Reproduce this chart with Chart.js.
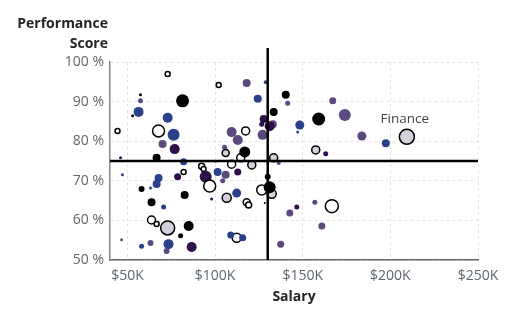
<!DOCTYPE html>
<html><head><meta charset="utf-8">
<script src="https://cdn.jsdelivr.net/npm/chart.js@4"></script>
<style>html,body{margin:0;padding:0;background:#fff}canvas{display:block}</style>
</head><body>
<canvas id="c" width="518" height="322"></canvas>
<script>
// Salary in $K
const salaries = [72.9,102.0,57.4,57.4,81.4,56.3,52.9,72.9,44.3,67.7,76.3,70.0,76.9,66.6,46.0,
  109.4,105.4,106.0,112.9,118.0,128.9,124.3,140.3,141.4,133.4,127.7,132.9,131.1,126.6,127.1,
  117.4,114.6,116.9,148.3,147.1,159.1,167.1,174.0,183.7,157.4,163.1,133.4,120.9,197.4,209.4,
  82.0,47.1,67.7,66.6,63.1,58.0,78.6,82.0,92.3,93.4,94.6,96.9,101.4,106.0,112.9,104.3,109.4,
  82.6,106.6,98.0,63.7,70.6,112.3,63.7,66.6,72.9,84.9,80.3,46.6,58.0,63.1,72.3,73.4,86.6,
  112.3,108.9,115.7,126.6,132.3,130.0,131.1,118.0,119.1,128.3,142.6,146.6,156.9,166.6,160.9,
  137.4,136.3,100.3];
// Performance score in %
const scores = [97.0,94.2,91.7,90.2,90.2,87.4,86.4,85.9,82.6,82.6,81.6,79.3,78.0,75.8,75.8,
  82.3,78.5,77.0,80.3,94.7,94.9,90.7,91.7,89.6,87.4,85.6,84.3,83.8,84.3,81.6,
  82.6,75.8,77.3,84.1,82.3,85.6,90.2,86.6,81.3,77.8,76.8,75.8,74.0,79.5,81.1,
  74.8,71.5,70.7,69.2,68.2,67.9,71.0,72.2,73.7,73.0,71.0,68.7,72.2,71.5,72.2,70.0,74.2,
  66.4,65.7,65.4,64.6,63.4,66.9,60.1,59.1,58.1,58.6,56.1,55.1,53.5,54.3,52.3,54.0,53.3,
  55.6,56.3,55.6,67.7,66.7,71.0,68.4,64.6,63.9,64.4,61.9,63.4,64.6,63.6,58.6,
  54.0,74.5,74.8];
// Bubble size
const sizes = [2.5,2.5,1.5,2.5,6.5,5,1.5,5,2.5,6,6,4,5,4,1.5,
  5,2.5,3.5,5,4,2,4,4,2.5,4,4,4,5,2.5,5,
  4,4,5.5,4.5,1.5,6.5,3.5,6,4.5,4,2.5,4,4,4,7.5,
  3.5,1.5,4,4,1.5,3,3.5,2.5,3,2.5,6,6,4,4,3.5,2.5,4,
  4,4.5,1.5,4,2.5,4.5,4,2.5,7,5,2.5,1.5,2.5,3,3,5,5,
  4.5,3.5,3.5,5,4.5,3,6,3.5,3,1,3.5,2.5,2.5,6.5,3.5,
  3.5,2,1];
// Group of each point
const groups = ['H','H','B','P','B','N','B','N','H','H','N','P','D','B','D',
  'P','P','L','P','P','N','N','B','P','B','D','P','D','D','P',
  'H','H','B','N','N','B','P','P','P','L','D','L','L','N','L',
  'N','N','N','N','N','B','D','H','H','H','D','H','N','P','D','P','H',
  'B','L','D','B','N','N','H','H','L','B','B','P','N','P','P','N','D',
  'H','N','N','H','L','B','B','H','H','B','P','D','P','H','P',
  'P','P','B'];
const calloutText = 'Finance';
const calloutSalary = 209.4;
const xTickValues = [50,100,150,200,250];
const refSalary = 130;
const refScore = 75;

const FONT = "'Open Sans', 'Noto Sans', sans-serif";
const groupStyle = {
  B:{bg:'#000000', bd:'#000000', bw:0},
  N:{bg:'#29408b', bd:'#29408b', bw:0},
  P:{bg:'#5c4a7e', bd:'#5c4a7e', bw:0},
  D:{bg:'#2d1049', bd:'#2d1049', bw:0},
  H:{bg:'#ffffff', bd:'#000000', bw:1.5},
  L:{bg:'#d4d1dc', bd:'#000000', bw:1.5}
};
const points = salaries.map((s,i)=>({x:s, y:scores[i], r:sizes[i]}));
const calloutIndex = salaries.indexOf(calloutSalary);

const overlay = {
  id:'overlay',
  afterDatasetsDraw(chart){
    const {ctx, chartArea:a, scales:{x,y}} = chart;
    const px = x.getPixelForValue(refSalary), py = y.getPixelForValue(refScore);
    ctx.save();
    ctx.strokeStyle='#000'; ctx.lineWidth=2.5;
    ctx.beginPath(); ctx.moveTo(px, a.top-14); ctx.lineTo(px, a.bottom); ctx.stroke();
    ctx.beginPath(); ctx.moveTo(a.left, py); ctx.lineTo(a.right, py); ctx.stroke();
    const el = chart.getDatasetMeta(0).data[calloutIndex];
    ctx.fillStyle='#444'; ctx.font='13.5px '+FONT; ctx.textAlign='center'; ctx.textBaseline='alphabetic';
    ctx.fillText(calloutText, el.x-2, el.y - sizes[calloutIndex] - 6);
    ctx.font='bold 14px '+FONT; ctx.fillStyle='#252423'; ctx.textAlign='right';
    ctx.fillText('Performance', 108, 28);
    ctx.fillText('Score', 108, 48);
    ctx.textAlign='center';
    ctx.fillText('Salary', (a.left+a.right)/2, 301);
    ctx.restore();
  }
};

new Chart(document.getElementById('c'), {
  type:'bubble',
  data:{datasets:[{
    data:points,
    backgroundColor:groups.map(g=>groupStyle[g].bg),
    borderColor:groups.map(g=>groupStyle[g].bd),
    borderWidth:groups.map(g=>groupStyle[g].bw)
  }]},
  options:{
    responsive:false, animation:false, events:[],
    layout:{padding:{top:62, right:40, bottom:0, left:0}},
    plugins:{legend:{display:false}, tooltip:{enabled:false}},
    scales:{
      x:{type:'linear', min:40, max:250,
        afterBuildTicks:(ax)=>{ax.ticks = xTickValues.map(v=>({value:v}));},
        afterFit:(ax)=>{ax.height = 62;},
        grid:{color:'#e3e3e3', drawTicks:false},
        border:{color:'#666', width:1.5, dash:[3,3]},
        ticks:{padding:8, color:'#5e6670', font:{family:FONT, size:14}, callback:v=>'$'+v+'K', maxRotation:0}
      },
      y:{type:'linear', min:50, max:100,
        afterFit:(ax)=>{ax.width = 110;},
        grid:{color:'#e3e3e3', drawTicks:false},
        border:{color:'#888', width:1.5, dash:[3,3]},
        ticks:{stepSize:10, padding:6, color:'#666', font:{family:FONT, size:14}, callback:v=>v+' %'}
      }
    }
  },
  plugins:[overlay]
});
</script>
</body></html>
